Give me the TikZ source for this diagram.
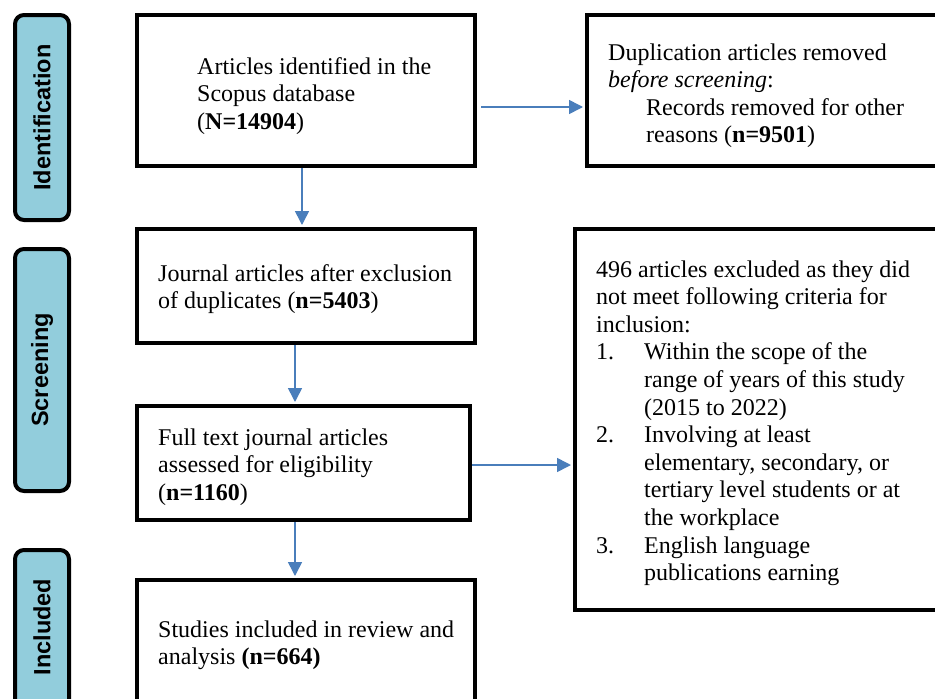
\documentclass[tikz,border=0pt]{standalone}
\usepackage{fontspec}
\setmainfont{Liberation Serif}
\newfontfamily\stagefont{Liberation Sans}
\usetikzlibrary{arrows.meta}
\definecolor{arrowblue}{RGB}{74,126,187}
\definecolor{pillblue}{RGB}{146,205,220}
\begin{document}
\begin{tikzpicture}[x=1pt,y=-1pt,
  box/.style={draw=black,line width=4pt,inner sep=0pt,minimum width=#1},
  pill/.style={draw=black,line width=4pt,fill=pillblue,rounded corners=9pt,inner sep=0pt,minimum width=54pt},
  boxtext/.style={anchor=base west,align=left,inner sep=0pt,font=\fontsize{24}{27.6}\selectfont},
  stagetext/.style={rotate=90,inner sep=0pt,font=\stagefont\bfseries\fontsize{23.5}{28}\selectfont},
  flow/.style={draw=arrowblue,line width=1.6pt,-{Triangle[length=14pt,width=14pt]}}]
\useasboundingbox (0,0) rectangle (935,699);
\clip (0,0) rectangle (935,699);
\fill[white] (0,0) rectangle (935,699);
% stage pills
\node[pill,minimum height=205pt] (pid) at (42,117.5) {};
\node[pill,minimum height=242pt] (psc) at (42,370) {};
\node[pill,minimum height=160pt] (pin) at (42,630) {};
\node[stagetext] (lid) at (pid.center) {Identification};
\node[stagetext] (lsc) at (psc.center) {Screening};
\node[stagetext] (lin) at (42,627) {Included};
% boxes
\node[box=338pt,minimum height=151pt] (b1) at (306,90.5) {};
\node[box=353pt,minimum height=151pt] (b2) at (763.5,90.5) {};
\node[box=338pt,minimum height=114pt] (b3) at (306,286) {};
\node[box=333pt,minimum height=114pt] (b4) at (303.5,463) {};
\node[box=338pt,minimum height=130pt] (b5) at (306,645) {};
\node[box=365pt,minimum height=381pt] (b6) at (757.5,419.5) {};
% texts (anchored at the baseline of their last line)
\node[boxtext] (t1) at (197,129.2) {Articles identified in the\\Scopus database\\(\textbf{N=14904})};
\node[boxtext] (t2) at (608,142.8) {Duplication articles removed\\\textit{before screening}:\\\hspace*{38pt}Records removed for other\\\hspace*{38pt}reasons (\textbf{n=9501})};
\node[boxtext] (t3) at (158,308.6) {Journal articles after exclusion\\of duplicates (\textbf{n=5403})};
\node[boxtext] (t4) at (158,500.2) {Full text journal articles\\assessed for eligibility\\(\textbf{n=1160})};
\node[boxtext] (t5) at (158,664.6) {Studies included in review and\\analysis \textbf{(n=664)}};
\node[boxtext] (t6) at (596,580.6) {496 articles excluded as they did\\not meet following criteria for\\inclusion:\\\makebox[48pt][l]{1.}Within the scope of the\\\hspace*{48pt}range of years of this study\\\hspace*{48pt}(2015 to 2022)\\\makebox[48pt][l]{2.}Involving at least\\\hspace*{48pt}elementary, secondary, or\\\hspace*{48pt}tertiary level students or at\\\hspace*{48pt}the workplace\\\makebox[48pt][l]{3.}English language\\\hspace*{48pt}publications earning};
% connectors
\draw[flow] ([xshift=-4pt]b1.south) -- ([xshift=-4pt,yshift=2pt]b3.north);
\draw[flow] ([xshift=-11pt]b3.south) -- ([xshift=-11pt,yshift=2pt]b3.north |- b4.north);
\draw[flow] ([xshift=-8.5pt]b4.south) -- ([xshift=-8.5pt,yshift=2pt]b4.south |- b5.north);
\draw[flow] ([xshift=4pt,yshift=-16.5pt]b1.east) -- ([xshift=-2pt,yshift=-16.5pt]b2.west);
\draw[flow] ([yshift=-2pt]b4.east) -- ([xshift=-2pt,yshift=-45.5pt]b6.west);
\end{tikzpicture}
\end{document}
